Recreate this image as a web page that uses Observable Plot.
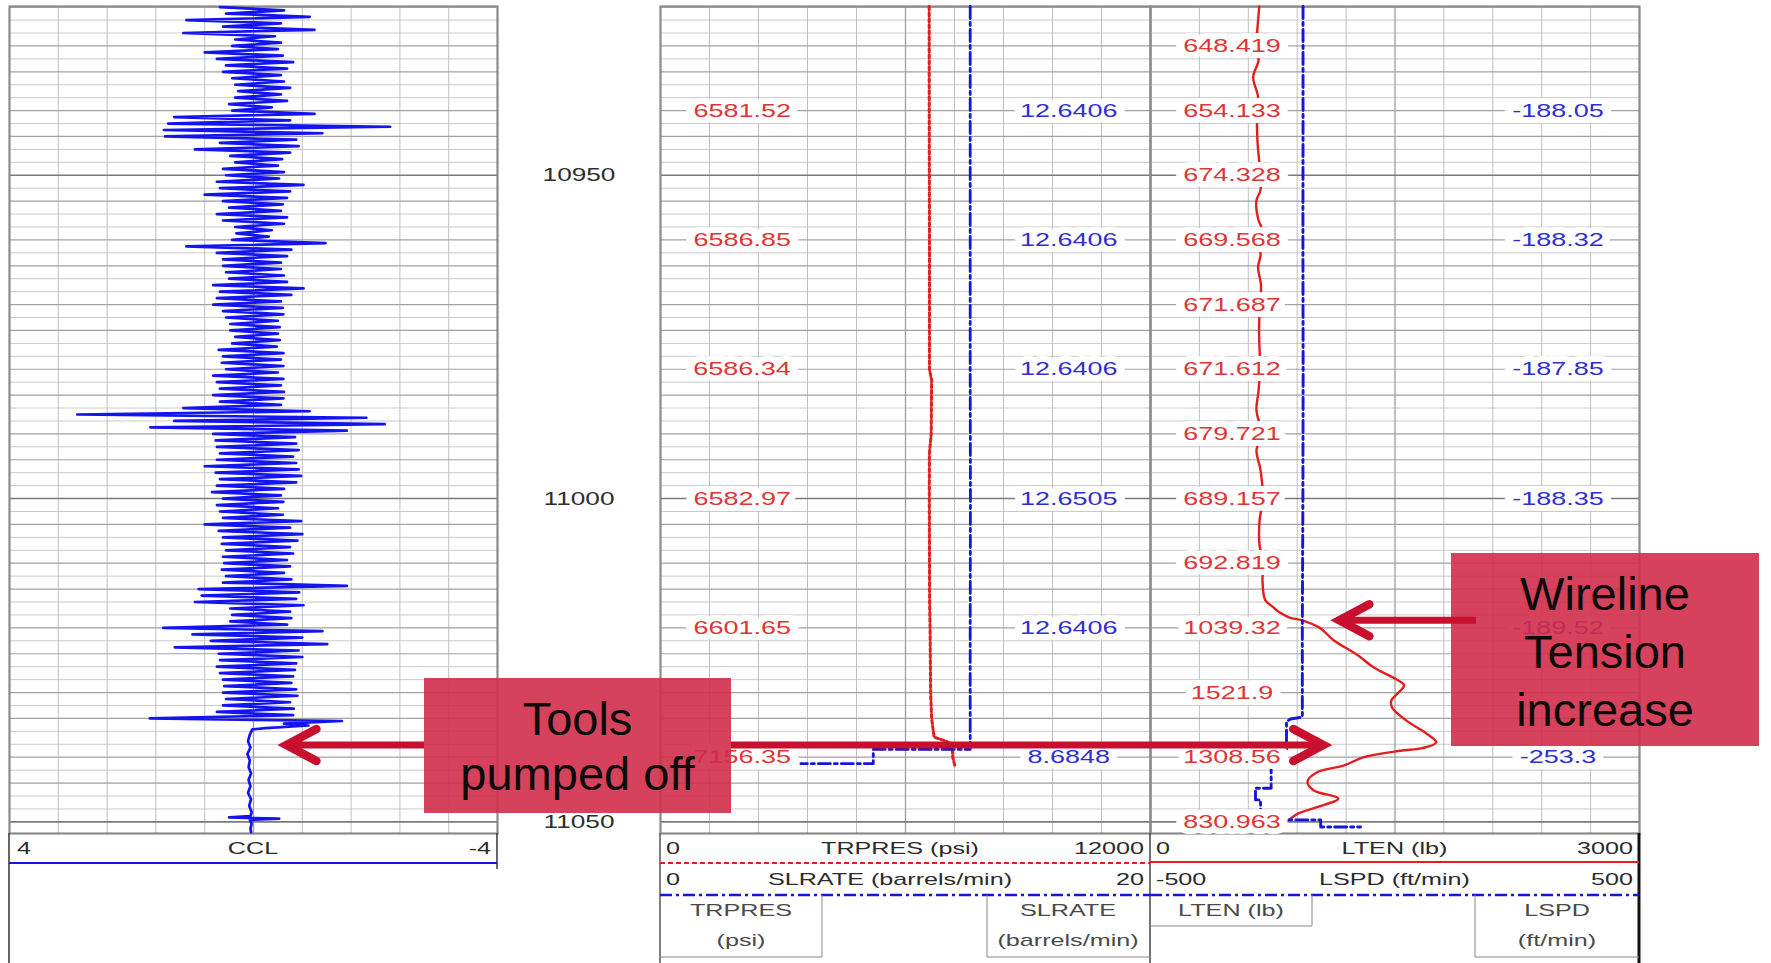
<!DOCTYPE html>
<html lang="en">
<head>
<meta charset="utf-8">
<title>Well log – CCL, TRPRES / SLRATE, LTEN / LSPD</title>
<script src="https://cdn.jsdelivr.net/npm/d3@7"></script>
<script src="https://cdn.jsdelivr.net/npm/@observablehq/plot@0.6"></script>
<style>
  html, body { margin: 0; padding: 0; background: #fff; overflow: hidden; }
  #log { position: relative; width: 1771px; height: 963px; background: #fff; }
  #log > svg { position: absolute; }
</style>
</head>
<body>
<div id="log"></div>
<script>
// ---------------- depth window ----------------
const DEPTH_TOP = 10923.9;
const DEPTH_BOTTOM = 11051.8;
const depthLabels = [10950, 11000, 11050];

// ---------------- CCL (track 1), sampled every 0.5 ft from 10924 ft ----------------
const cclStartDepth = 10924;
const cclStep = 0.5;
const cclValues = [
  0.55,-0.5,0.45,-0.92,1.10,-0.45,0.5,-1.0,1.15,-0.35,0.3,-0.45,0.35,-0.4,0.8,-0.48,0.6,-0.65,0.45,-0.55,
  0.5,-0.45,0.35,-0.5,0.3,-0.6,0.25,-0.45,0.3,-0.55,0.4,-0.3,0.35,-1.0,1.3,-0.6,1.4,-2.24,1.47,-1.13,
  1.45,-0.7,0.55,-0.74,0.96,-0.6,0.38,-0.47,0.3,-0.4,0.5,-0.5,0.45,-0.42,0.6,-0.82,0.55,-0.6,0.8,-0.55,
  0.5,-0.48,0.4,-0.45,0.6,-0.55,0.5,-0.5,0.3,-0.3,0.28,-0.25,0.35,-1.18,1.1,-0.62,0.6,-0.55,0.5,-0.45,
  0.5,-0.45,0.45,-0.5,0.4,-0.55,0.66,-0.82,0.55,-0.62,0.6,-0.45,0.66,-0.48,0.5,-0.49,0.45,-0.4,0.38,-0.43,
  0.38,-0.4,0.3,-0.43,0.35,-0.38,0.57,-0.49,0.5,-0.45,0.52,-0.49,0.45,-0.4,0.66,-0.49,0.6,-0.45,0.55,-0.5,
  0.66,-0.49,0.55,-0.45,1.15,-0.92,2.89,-1.85,1.3,-2.15,1.69,-1.53,0.66,-0.68,0.62,-0.7,0.6,-0.74,0.55,-0.65,
  0.6,-0.7,0.8,-0.74,0.62,-0.78,0.55,-0.7,0.6,-0.5,0.68,-0.45,0.5,-0.49,0.6,-0.4,0.55,-0.48,0.5,-0.78,
  0.8,-0.6,0.57,-0.8,0.5,-0.72,0.52,-0.6,0.45,-0.65,0.5,-0.55,0.48,-0.6,0.52,-0.5,0.45,-0.62,0.5,-1.53,
  0.9,-0.75,0.85,-0.7,0.96,-0.82,0.38,-0.6,0.35,-0.62,0.38,-0.55,1.48,-1.13,1.0,-0.8,0.7,-1.21,1.29,-0.74,
  0.57,-0.8,0.55,-0.7,0.6,-0.68,0.55,-0.65,0.5,-0.62,0.48,-0.7,0.5,-0.72,0.45,-0.6,0.5,-0.66,0.6,-0.65,
  1.7
];
// after the tools are pumped off the collar locator goes quiet
const cclTailDepth  = [11034.4, 11034.8, 11035.1, 11035.5, 11035.7, 11036.5, 11037.5, 11038.5, 11039.5, 11040.5, 11041.5, 11042.5, 11043.5, 11044.5, 11045.5, 11046.5, 11047.5, 11048.5, 11049.1, 11049.3, 11049.5, 11049.7, 11050.3, 11051.0, 11051.6];
const cclTailValues = [-1.45, -0.5, -0.9, -0.2, 0.02, 0.06, 0.09, 0.05, 0.1, 0.06, 0.08, 0.04, 0.08, 0.05, 0.09, 0.04, 0.07, 0.03, 0.05, 0.4, -0.42, 0.06, 0.03, 0.05, 0.04];

// ---------------- track 2: TRPRES (psi) and SLRATE (barrels/min) ----------------
const trpresDepth = [10923.9, 10940, 10960, 10980, 10981.7, 10990, 10993, 11000, 11016, 11020, 11030, 11034, 11036.9, 11037.4, 11037.9, 11039.2, 11040, 11041.6];
const trpresPsi   = [6580, 6581.52, 6586.85, 6586.34, 6640, 6630, 6585, 6582.97, 6590, 6601.65, 6615, 6640, 6700, 6937, 7124, 7150, 7156.35, 7220];

const slrateDepth = [10923.9, 10940, 10960, 10980, 11000, 11020, 11038.8, 11038.8, 11040, 11041.0, 11041.0];
const slrateRate  = [12.6406, 12.6406, 12.6406, 12.6406, 12.6505, 12.6406, 12.6406, 8.6848, 8.6848, 8.6848, 5.73];

const track2LabelDepths = [10940, 10960, 10980, 11000, 11020, 11040];
const trpresLabels = [6581.52, 6586.85, 6586.34, 6582.97, 6601.65, 7156.35];
const slrateLabels = [12.6406, 12.6406, 12.6406, 12.6505, 12.6406, 8.6848];

// ---------------- track 3: LTEN (lb) and LSPD (ft/min) ----------------
const ltenDepth = [10923.9, 10927.6, 10930, 10932.2, 10934.8, 10937.9, 10940, 10944.6, 10950, 10952.3, 10953.9, 10957, 10958, 10960, 10962.4, 10964.2, 10967, 10970, 10974, 10980, 10983.3, 10986.3, 10990, 10992.5, 10995.6, 11000, 11003.4, 11007.2, 11010, 11012.6, 11015.7, 11016.8, 11017.6, 11018.4, 11018.8, 11020, 11021.9, 11024.2, 11026.1, 11028.1, 11028.9, 11030, 11031.2, 11032.3, 11034.3, 11036.3, 11037.7, 11038.6, 11039, 11040, 11041.3, 11042.3, 11043.8, 11045.1, 11046.4, 11047.7, 11048.7, 11049.5, 11050];
const ltenLb    = [667, 655, 648.419, 663, 630, 660, 654.133, 656, 674.328, 675, 650, 663, 679, 669.568, 675, 660, 678, 671.687, 666, 671.612, 663, 650, 679.721, 650, 675, 689.157, 669, 669, 692.819, 687, 704, 753, 791, 853, 926, 1039.32, 1123, 1270, 1368, 1518, 1556, 1521.9, 1478, 1482, 1568, 1691, 1753, 1667, 1534, 1308.56, 1184, 1025, 963, 1000, 1153, 1025, 908, 859, 830.963];

const lspdDepth = [10923.9, 10940, 10960, 10980, 11000, 11020, 11033.8, 11034.1, 11034.5, 11038.8, 11038.8, 11040, 11044.8, 11044.8, 11046.6, 11046.6, 11049.7, 11049.7, 11050.8, 11050.8];
const lspdSpeed = [-188.1, -188.05, -188.32, -187.85, -188.35, -189.52, -189.5, -213.7, -221.9, -221.9, -253.3, -253.3, -253.3, -285.3, -285.3, -275, -275, -152, -152, -70.5];

const ltenLabelDepths = [10930, 10940, 10950, 10960, 10970, 10980, 10990, 11000, 11010, 11020, 11030, 11040, 11050];
const ltenLabels = [648.419, 654.133, 674.328, 669.568, 671.687, 671.612, 679.721, 689.157, 692.819, 1039.32, 1521.9, 1308.56, 830.963];
const lspdLabelDepths = [10940, 10960, 10980, 11000, 11020, 11040];
const lspdLabels = [-188.05, -188.32, -187.85, -188.35, -189.52, -253.3];

// ---------------- annotation text ----------------
const pumpedOffText = ["Tools", "pumped off"];
const tensionText = ["Wireline", "Tension", "increase"];

// ---------------- layout ----------------
const W = 1771, H = 963;
const PLOT_TOP = 6, PLOT_HEIGHT = 827;
const HEADER_TOP = PLOT_TOP + PLOT_HEIGHT;
const TRACKS = {
  ccl:   {left: 9,    width: 488},
  depth: {left: 497,  width: 163},
  t2:    {left: 660,  width: 490},
  t3:    {left: 1150, width: 489}
};
const FONT = "Liberation Sans, Arial, Helvetica, sans-serif";
const RED = "#e31e1e", BLUE = "#1616d6", CCL_BLUE = "#1414f0";
const LABEL_RED = "#e03535", LABEL_BLUE = "#2f2fd4";
const DASH_DOT = "12,4,3,4";

const root = document.getElementById("log");

const zip = (ds, vs, key) => ds.map((d, i) => ({depth: d, [key]: vs[i]}));
const cclData = cclValues.map((v, i) => ({depth: cclStartDepth + i * cclStep, ccl: v}))
  .concat(zip(cclTailDepth, cclTailValues, "ccl"));
const trpres = zip(trpresDepth, trpresPsi, "psi");
const slrate = zip(slrateDepth, slrateRate, "rate");
const lten = zip(ltenDepth, ltenLb, "lb");
const lspd = zip(lspdDepth, lspdSpeed, "speed");

// ---------------- helpers ----------------
function trackPlot(track, xDomain, marks) {
  const svg = Plot.plot({
    width: track.width,
    height: PLOT_HEIGHT,
    margin: 0,
    x: {domain: xDomain, axis: null},
    y: {domain: [DEPTH_TOP, DEPTH_BOTTOM], reverse: true, axis: null},
    style: {background: "none", overflow: "visible", fontFamily: FONT},
    marks
  });
  svg.style.left = track.left + "px";
  svg.style.top = PLOT_TOP + "px";
  root.appendChild(svg);
  return svg;
}

// depth grid: a line every 2 ft, heavier lines through the log, heaviest every 50 ft
const depthGrid = d3.range(10924, 11051, 2);
const isHeavy = d => d % 50 === 0;
const isMedium = d => !isHeavy(d) && (d % 10 === 0 || d % 10 === 4);

function gridMarks([a, b]) {
  const cols = d3.range(1, 10).map(i => a + (b - a) * i / 10);
  return [
    Plot.ruleY(depthGrid.filter(d => !isHeavy(d) && !isMedium(d)), {stroke: "#cacaca", strokeWidth: 1}),
    Plot.ruleX(cols.filter((c, i) => i !== 4), {stroke: "#c0c0c0", strokeWidth: 1}),
    Plot.ruleX([cols[4]], {stroke: "#9e9e9e", strokeWidth: 1.3}),
    Plot.ruleY(depthGrid.filter(isMedium), {stroke: "#a2a2a2", strokeWidth: 1.2}),
    Plot.ruleY(depthGrid.filter(isHeavy), {stroke: "#7a7a7a", strokeWidth: 1.6}),
    Plot.frame({stroke: "#8a8a8a", strokeWidth: 2.2})
  ];
}

// value labels sit on a white patch that interrupts the grid and the curves
function valueLabels(depths, values, xAt, color) {
  return Plot.text(depths.map((d, i) => ({depth: d, value: values[i]})), {
    x: () => xAt, y: "depth", text: d => String(d.value),
    fill: color, stroke: "white", strokeWidth: 12, strokeLinejoin: "round",
    fontSize: 19, fontFamily: FONT
  });
}

// the log's lettering is wide; stretch each text horizontally about its centre
function stretchTexts(svg, sx) {
  svg.querySelectorAll("text").forEach(t => {
    const r = t.getBoundingClientRect();
    const parent = t.parentNode;
    const p = new DOMPoint(r.left + r.width / 2, r.top + r.height / 2)
      .matrixTransform(parent.getScreenCTM().inverse());
    const g = document.createElementNS("http://www.w3.org/2000/svg", "g");
    g.setAttribute("transform", `translate(${p.x},0) scale(${sx},1) translate(${-p.x},0)`);
    parent.insertBefore(g, t);
    g.appendChild(t);
  });
}

// ---------------- track 1: CCL ----------------
const cclPlot = trackPlot(TRACKS.ccl, [4, -4], [
  ...gridMarks([4, -4]),
  Plot.line(cclData, {x: "ccl", y: "depth", stroke: CCL_BLUE, strokeWidth: 2.7, strokeLinejoin: "round"})
]);

// ---------------- depth column ----------------
const depthPlot = trackPlot(TRACKS.depth, [0, 1], [
  Plot.text(depthLabels, {x: () => 0.5, y: d => d, text: d => String(d), fill: "#2e2e2e", fontSize: 19, fontFamily: FONT})
]);
stretchTexts(depthPlot, 1.38);

// ---------------- track 2 ----------------
const trpresPlot = trackPlot(TRACKS.t2, [0, 12000], [
  ...gridMarks([0, 12000]),
  Plot.line(trpres, {x: "psi", y: "depth", stroke: RED, strokeWidth: 3, strokeDasharray: "3.5,2.5"})
]);
trackPlot(TRACKS.t2, [0, 20], [
  Plot.line(slrate, {x: "rate", y: "depth", stroke: BLUE, strokeWidth: 2.8, strokeDasharray: DASH_DOT})
]);

// ---------------- track 3 ----------------
const ltenPlot = trackPlot(TRACKS.t3, [0, 3000], [
  ...gridMarks([0, 3000]),
  Plot.line(lten, {x: "lb", y: "depth", stroke: RED, strokeWidth: 2.4, curve: "catmull-rom"})
]);
trackPlot(TRACKS.t3, [-500, 500], [
  Plot.line(lspd, {x: "speed", y: "depth", stroke: BLUE, strokeWidth: 2.9, strokeDasharray: DASH_DOT})
]);

// ---------------- value labels (on top of every curve) ----------------
const labelLayers = [
  trackPlot(TRACKS.t2, [0, 12000], [valueLabels(track2LabelDepths, trpresLabels, 2000, LABEL_RED)]),
  trackPlot(TRACKS.t2, [0, 20], [valueLabels(track2LabelDepths, slrateLabels, 50 / 3, LABEL_BLUE)]),
  trackPlot(TRACKS.t3, [0, 3000], [valueLabels(ltenLabelDepths, ltenLabels, 500, LABEL_RED)]),
  trackPlot(TRACKS.t3, [-500, 500], [valueLabels(lspdLabelDepths, lspdLabels, 1000 / 3, LABEL_BLUE)])
];
labelLayers.forEach(svg => stretchTexts(svg, 1.42));

// ---------------- track headers ----------------
const hdr = d3.select(root).append("svg")
  .attr("width", W).attr("height", H - HEADER_TOP)
  .style("left", "0px").style("top", HEADER_TOP + "px");

function hLine(x1, y1, x2, y2, stroke, width, dash) {
  hdr.append("line").attr("x1", x1).attr("y1", y1).attr("x2", x2).attr("y2", y2)
    .attr("stroke", stroke).attr("stroke-width", width).attr("stroke-dasharray", dash || null);
}
function hText(x, y, str, anchor, color) {
  hdr.append("text").attr("transform", `translate(${x},${y}) scale(1.48,1)`)
    .attr("text-anchor", anchor).attr("font-family", FONT).attr("font-size", 17)
    .attr("fill", color || "#2b2b2b").text(str);
}
const t1 = TRACKS.ccl, t2 = TRACKS.t2, t3 = TRACKS.t3;
const t1r = t1.left + t1.width, t2r = t2.left + t2.width, t3r = t3.left + t3.width;

// CCL header
hLine(t1.left, 0, t1.left, H - HEADER_TOP, "#333", 1.5);
hLine(t1r, 0, t1r, 36, "#333", 1.5);
hLine(t1.left, 30, t1r, 30, CCL_BLUE, 2.2);
hText(t1.left + 8, 21, "4", "start");
hText(t1.left + t1.width / 2, 21, "CCL", "middle");
hText(t1r - 6, 21, "-4", "end");

// track 2 header
hLine(t2.left, 0, t2.left, H - HEADER_TOP, "#555", 1.5);
hLine(t2r, 0, t2r, H - HEADER_TOP, "#444", 1.5);
hLine(t2.left, 30, t2r, 30, RED, 2, "5,3");
hLine(t2.left, 62, t2r, 62, BLUE, 2.6, DASH_DOT);
hText(t2.left + 6, 21, "0", "start");
hText(900, 21, "TRPRES (psi)", "middle");
hText(t2r - 6, 21, "12000", "end");
hText(t2.left + 6, 52, "0", "start");
hText(890, 52, "SLRATE (barrels/min)", "middle");
hText(t2r - 6, 52, "20", "end");
hLine(822, 62, 822, 124, "#888", 1);
hLine(t2.left, 124, 822, 124, "#888", 1);
hText(741, 83, "TRPRES", "middle", "#4a4a4a");
hText(741, 113, "(psi)", "middle", "#4a4a4a");
hLine(987, 62, 987, 124, "#888", 1);
hLine(987, 124, t2r, 124, "#888", 1);
hText(1068, 83, "SLRATE", "middle", "#4a4a4a");
hText(1068, 113, "(barrels/min)", "middle", "#4a4a4a");

// track 3 header
hLine(t3r, 0, t3r, H - HEADER_TOP, "#111", 3);
hLine(t3.left, 29, t3r, 29, RED, 2.2);
hLine(t3.left, 62, t3r, 62, BLUE, 2.6, DASH_DOT);
hText(t3.left + 6, 21, "0", "start");
hText(t3.left + t3.width / 2, 21, "LTEN (lb)", "middle");
hText(t3r - 6, 21, "3000", "end");
hText(t3.left + 6, 52, "-500", "start");
hText(t3.left + t3.width / 2, 52, "LSPD (ft/min)", "middle");
hText(t3r - 6, 52, "500", "end");
hLine(1312, 62, 1312, 93, "#888", 1);
hLine(t3.left, 93, 1312, 93, "#888", 1);
hText(1231, 83, "LTEN (lb)", "middle", "#4a4a4a");
hLine(1475, 62, 1475, 124, "#888", 1);
hLine(1475, 124, t3r, 124, "#888", 1);
hText(1557, 83, "LSPD", "middle", "#4a4a4a");
hText(1557, 113, "(ft/min)", "middle", "#4a4a4a");

// ---------------- call-outs ----------------
const ann = d3.select(root).append("svg")
  .attr("width", W).attr("height", H)
  .style("left", "0px").style("top", "0px");
const BOX = "rgb(209, 44, 74)", ARROW = "#c8102e";

// positions on the log, through the tracks' own scales
const yOf = (plot, depth) => PLOT_TOP + plot.scale("y").apply(depth);
const pumpOffY = yOf(cclPlot, 11038.2);
const pumpOffLeftTip = TRACKS.ccl.left + cclPlot.scale("x").apply(-0.45);
const pumpOffRightTip = TRACKS.t3.left + ltenPlot.scale("x").apply(1100);
const tensionY = yOf(ltenPlot, 11018.9);
const tensionTip = TRACKS.t3.left + ltenPlot.scale("x").apply(1125);

function callout(x, y, w, h, lines, baselines) {
  ann.append("rect").attr("x", x).attr("y", y).attr("width", w).attr("height", h)
    .attr("fill", BOX).attr("fill-opacity", 0.9);
  lines.forEach((s, i) => ann.append("text")
    .attr("x", x + w / 2).attr("y", baselines[i]).attr("text-anchor", "middle")
    .attr("font-family", FONT).attr("font-size", 47).attr("fill", "#0b0b0b").text(s));
}
function arrow(xTail, xTip, y) {
  const dir = Math.sign(xTip - xTail);
  ann.append("line").attr("x1", xTail).attr("x2", xTip - dir * 6).attr("y1", y).attr("y2", y)
    .attr("stroke", ARROW).attr("stroke-width", 7);
  const tx = xTip - dir * 6;
  ann.append("path")
    .attr("d", `M${tx - dir * 30},${y - 16}L${tx},${y}L${tx - dir * 30},${y + 16}`)
    .attr("fill", "none").attr("stroke", ARROW).attr("stroke-width", 8.5)
    .attr("stroke-linejoin", "miter").attr("stroke-linecap", "round");
}

callout(424, 678, 307, 135, pumpedOffText, [735, 790]);
arrow(424, pumpOffLeftTip, pumpOffY);
arrow(731, pumpOffRightTip, pumpOffY);

callout(1451, 553, 308, 193, tensionText, [610, 668, 726]);
arrow(1476, tensionTip, tensionY);
</script>
</body>
</html>
